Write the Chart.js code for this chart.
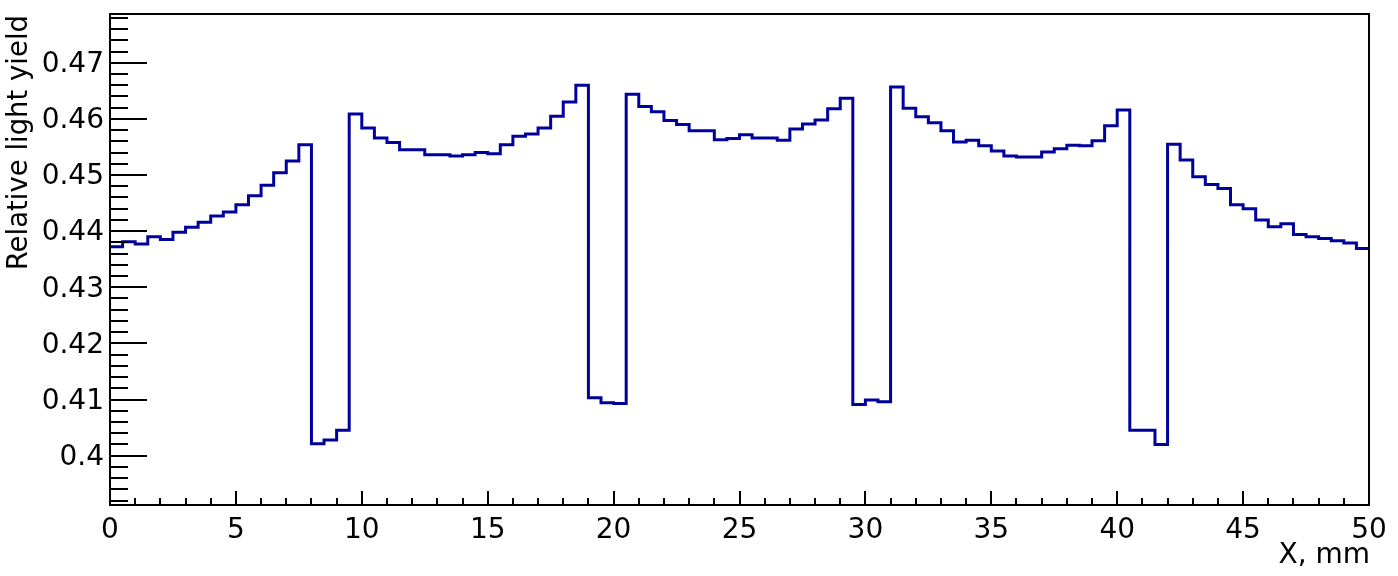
<!DOCTYPE html>
<html>
<head>
<meta charset="utf-8">
<script src="https://cdn.jsdelivr.net/npm/chart.js@4.4.1/dist/chart.umd.min.js"></script>
<style>
  html, body { margin: 0; padding: 0; background: #fff; }
  #wrap { width: 1398px; height: 576px; }
</style>
</head>
<body>
<div id="wrap"><canvas id="myChart" width="1398" height="576"></canvas></div>
<script>
// histogram: 100 bins of 0.5 mm from 0 to 50 mm
const xMin = 0;
const xMax = 50;
const binWidth = 0.5;
const lightYield = [
    0.4372, 0.4381, 0.4377, 0.4390, 0.4385, 0.4398, 0.4407, 0.4416, 0.4427, 0.4434,
    0.4447, 0.4463, 0.4482, 0.4504, 0.4525, 0.4554, 0.4021, 0.4028, 0.4045, 0.4609,
    0.4584, 0.4566, 0.4558, 0.4545, 0.4545, 0.4536, 0.4536, 0.4534, 0.4536, 0.4540,
    0.4538, 0.4554, 0.4569, 0.4573, 0.4584, 0.4605, 0.4630, 0.4660, 0.4103, 0.4094,
    0.4093, 0.4644, 0.4622, 0.4613, 0.4597, 0.4590, 0.4579, 0.4579, 0.4563, 0.4565,
    0.4572, 0.4566, 0.4566, 0.4562, 0.4582, 0.4591, 0.4598, 0.4618, 0.4637, 0.4091,
    0.4099, 0.4096, 0.4657, 0.4619, 0.4604, 0.4593, 0.4579, 0.4559, 0.4562, 0.4552,
    0.4543, 0.4534, 0.4532, 0.4532, 0.4541, 0.4547, 0.4553, 0.4552, 0.4561, 0.4588,
    0.4616, 0.4045, 0.4045, 0.4020, 0.4555, 0.4527, 0.4497, 0.4483, 0.4476, 0.4447,
    0.4440, 0.4420, 0.4408, 0.4413, 0.4394, 0.4390, 0.4387, 0.4383, 0.4379, 0.4369
];
const xTicks = [0, 5, 10, 15, 20, 25, 30, 35, 40, 45, 50];
const yTicks = [0.40, 0.41, 0.42, 0.43, 0.44, 0.45, 0.46, 0.47];
const yMin = 0.3912;
const yMax = 0.4787;
const xTitle = 'X, mm';
const yTitle = 'Relative light yield';

const FONT = "'DejaVu Sans', sans-serif";

// step points at the low edge of each bin, plus the last upper edge
var points = [];
lightYield.forEach(function(v, i) {
    points.push({ x: xMin + i * binWidth, y: v });
});
points.push({ x: xMax, y: lightYield[lightYield.length - 1] });

// ROOT style frame, inward ticks and axis titles
const rootFrame = {
    id: 'rootFrame',
    afterDatasetsDraw(chart) {
        const c = chart.ctx;
        const a = chart.chartArea;
        const xs = chart.scales.x;
        const ys = chart.scales.y;
        c.save();
        c.strokeStyle = '#000';
        c.lineWidth = 2;
        c.beginPath();
        // x ticks: major every 5, minor every 1
        for (let v = xMin; v <= xMax + 1e-9; v += 1) {
            const px = Math.round(xs.getPixelForValue(v));
            const len = (Math.round(v) % 5 === 0) ? 14 : 7;
            c.moveTo(px, a.bottom);
            c.lineTo(px, a.bottom - len);
        }
        // y ticks: major every 0.01, minor every 0.002
        for (let k = Math.ceil(yMin / 0.002); k * 0.002 <= yMax; k++) {
            const v = k * 0.002;
            const py = Math.round(ys.getPixelForValue(v));
            const len = (k % 5 === 0) ? 37 : 18;
            c.moveTo(a.left, py);
            c.lineTo(a.left + len, py);
        }
        c.stroke();
        c.strokeRect(a.left, a.top, a.right - a.left, a.bottom - a.top);

        c.fillStyle = '#000';
        c.textAlign = 'right';
        c.textBaseline = 'alphabetic';
        c.font = '28px ' + FONT;
        c.fillText(xTitle, a.right + 1, 563);
        c.font = '27.5px ' + FONT;
        c.translate(27, a.top + 1);
        c.rotate(-Math.PI / 2);
        c.fillText(yTitle, 0, 0);
        c.restore();
    }
};

function noPad(s) {
    s.paddingTop = 0;
    s.paddingBottom = 0;
    s.paddingLeft = 0;
    s.paddingRight = 0;
}

const ctx = document.getElementById('myChart').getContext('2d');
const myChart = new Chart(ctx, {
    type: 'line',
    data: {
        datasets: [{
            label: 'light yield',
            data: points,
            stepped: 'before',
            borderColor: '#00009c',
            borderWidth: 3,
            pointRadius: 0,
            fill: false
        }]
    },
    options: {
        responsive: false,
        animation: false,
        layout: { padding: { top: 14, right: 29, left: 0, bottom: 0 } },
        plugins: {
            legend: { display: false },
            tooltip: { enabled: false }
        },
        scales: {
            x: {
                type: 'linear',
                min: xMin,
                max: xMax,
                grid: { display: false, drawTicks: false },
                border: { display: false },
                afterBuildTicks: function(s) { s.ticks = xTicks.map(function(v) { return { value: v }; }); },
                afterFit: function(s) { s.height = 71; noPad(s); },
                ticks: {
                    color: '#000',
                    padding: 9,
                    maxRotation: 0,
                    autoSkip: false,
                    font: { family: FONT, size: 28 },
                    callback: function(v) { return String(v); }
                }
            },
            y: {
                type: 'linear',
                min: yMin,
                max: yMax,
                grid: { display: false, drawTicks: false },
                border: { display: false },
                afterBuildTicks: function(s) { s.ticks = yTicks.map(function(v) { return { value: v }; }); },
                afterFit: function(s) { s.width = 110; noPad(s); },
                ticks: {
                    color: '#000',
                    padding: 6,
                    labelOffset: 2,
                    autoSkip: false,
                    font: { family: FONT, size: 28 },
                    callback: function(v) { return String(Number(v.toFixed(2))); }
                }
            }
        }
    },
    plugins: [rootFrame]
});
</script>
</body>
</html>
